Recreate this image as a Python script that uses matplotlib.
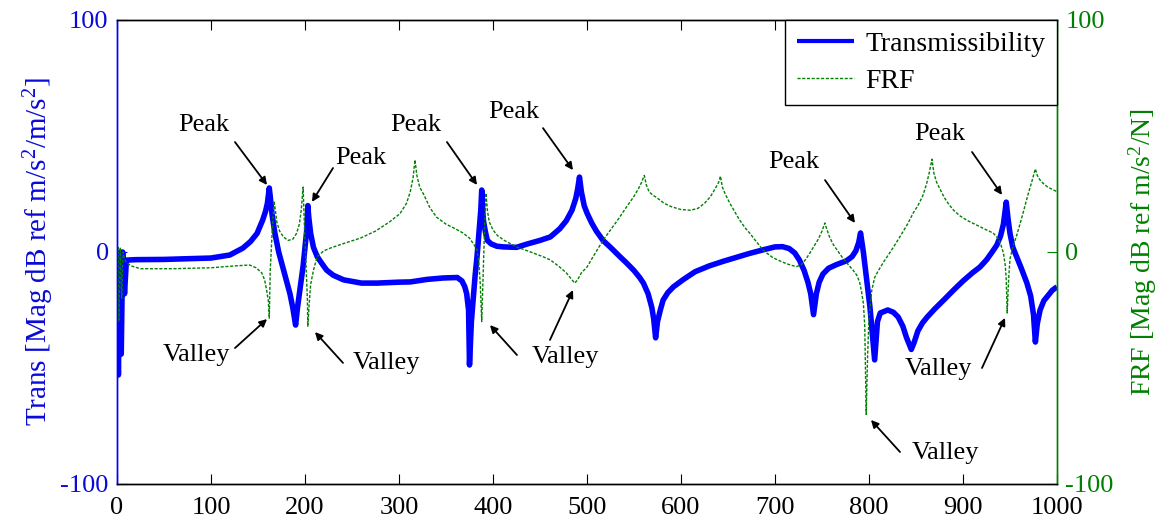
import matplotlib
matplotlib.use("Agg")
import matplotlib.pyplot as plt

plt.rcParams['font.family'] = ['Liberation Serif', 'DejaVu Serif']
plt.rcParams['mathtext.fontset'] = 'custom'
plt.rcParams['mathtext.rm'] = 'Liberation Serif'
plt.rcParams['mathtext.it'] = 'Liberation Serif:italic'
plt.rcParams['axes.unicode_minus'] = False

# ---------------- data ----------------
trans_freq = [0, 1.5, 3, 4.5, 6, 8, 10, 20, 50, 100, 120, 134, 142, 149, 155, 158, 160, 162,
              163, 165, 168, 172, 176, 180, 184, 187, 190, 192, 195, 198, 200, 202, 203,
              204, 206, 209, 213, 218, 223, 230, 241, 260, 277, 300, 312, 330, 347, 362,
              367, 370, 372, 374, 375, 377, 379, 381, 383, 385, 387, 388, 389, 390, 392,
              394, 398, 404, 411, 425, 436, 450, 461, 471, 478, 484, 488, 490, 492,
              494, 497, 500, 505, 510, 517, 525, 535, 542, 550, 556, 560, 565, 569, 571,
              573, 575, 578, 581, 586, 592, 602, 615, 630, 645, 660, 673, 688, 700, 708,
              715, 721, 726, 731, 735, 738, 741, 744, 747, 751, 757, 765, 776, 782, 786,
              789, 791, 794, 797, 801, 806, 809, 812, 820, 826, 831, 836, 840, 845, 848,
              852, 857, 862, 870, 880, 890, 900, 910, 918, 925, 931, 936, 940, 943, 946,
              948, 950, 953, 957, 962, 968, 972, 975, 977, 979, 982, 986, 990, 995, 1000]
trans_db = [-20, -53, 0, -44, 0, -18, -3.5, -3.3, -3.2, -2.6, -1.3, 1.7, 4.5, 8, 13.8, 17.5, 21, 27.6,
            24, 16, 8, 0, -6, -12, -18, -24, -31.5, -24, -15, -6, 2, 10, 20,
            15, 8, 2, -2, -5, -7.8, -10, -12, -13.4, -13.4, -13, -12.9, -11.8, -11.2, -11,
            -12.5, -15, -18, -25, -48.7, -30, -20, -10, -2, 8, 18, 26.7, 18, 13, 8.5,
            5, 3.5, 2.5, 2.2, 2, 3.4, 5, 6.5, 10, 13.5, 18, 23, 27, 32.3,
            26, 20, 16.8, 12.5, 9, 5, 2, -2, -4.7, -8, -11, -13.4, -18, -24, -29,
            -37, -30, -25, -20.7, -17.5, -15, -12, -8.5, -6, -4, -2.2, -0.6, 1, 2.2, 2.3,
            1.5, -0.4, -3.5, -8, -13, -18, -27, -18, -13, -9.5, -7, -5.5, -3.8, -2, 0.5,
            4, 8.2, 0, -10, -23.7, -46.5, -30, -26.3, -25, -26, -28, -32, -37, -42, -39,
            -34, -30.5, -28, -24.5, -20.5, -16.4, -12.5, -9, -6.5, -3.4, 0, 3, 7, 12, 21.5,
            14, 8, 2, -2, -7, -13.4, -19, -27, -38.8, -31, -25, -21, -19, -16.5, -15]

frf_freq = [0, 1, 2, 3.5, 5, 6.5, 8, 10, 15, 25, 60, 100, 125, 141, 148, 154, 157, 159, 161, 162,
            163, 165, 167, 168.5, 170, 173, 177, 182, 187, 191, 194, 196, 198, 199.5, 201,
            202.5, 203, 204.5, 206, 209, 213, 220, 227, 240, 259, 275, 290, 301, 308, 312,
            315, 317, 319, 322, 326, 333, 340, 350, 360, 368, 375, 380, 383, 385, 386.5,
            388, 389.5, 391, 392.5, 394, 396, 400, 405, 412, 425, 440, 453, 461, 471, 478,
            483, 487, 490, 494, 500, 508, 517, 525, 533, 542, 550, 555, 558, 561, 563, 566,
            570, 574, 582, 590, 600, 610, 618, 625, 631, 636, 640, 642, 644, 647, 652, 657,
            662, 668, 673, 680, 686, 691, 698, 705, 712, 718, 723, 728, 733, 737, 741, 746,
            750, 753, 755, 758, 762, 766, 771, 777, 783, 787, 790, 792, 794, 795.5, 797,
            798.5, 800, 803, 806, 810, 816, 822, 829, 835, 841, 847, 852, 857, 861, 864,
            867, 869, 872, 876, 880, 885, 890, 897, 905, 915, 925, 932, 937, 940, 943, 945,
            946, 947, 948.5, 950, 953, 957, 962, 966, 970, 973, 975, 977, 979, 982, 985,
            990, 995, 1000]
frf_db = [-25, 2, -30, 2, -20, 0, -3, -4.5, -6, -7.2, -7.2, -6.8, -6, -5.6, -6.8, -9, -12, -16, -21, -28.5,
          -8, 8, 22, 18, 13, 9, 6.5, 5, 5.5, 8, 12, 18, 28, 10, -5,
          -20, -32, -22, -14, -7.8, -2, 0.5, 1.7, 3.5, 6, 9, 13, 16.5, 21, 26,
          32, 39.7, 33, 28, 25, 19, 15, 12, 10, 8.2, 6, 3, 0.9, -5, -14,
          -30, -10, 10, 25.4, 18, 13, 9.5, 7, 5, 2.2, 0, -2, -3.4, -6.5, -9,
          -11.5, -13.4, -12, -9, -6.5, -1, 5, 9.5, 14, 19.4, 24, 27.5, 30, 33, 29, 26,
          24.5, 23.5, 21, 19.5, 18.3, 18, 18.8, 21, 23.7, 27, 30, 32.7, 28, 25, 21, 17.5,
          14, 10.5, 8.2, 4.5, 1.5, -0.4, -2.5, -3.8, -5, -5.8, -6.3, -5.5, -3, -0.5, 2.2, 5.5,
          9, 12.5, 10, 6.5, 3.2, 0.9, -2, -5, -7.8, -10, -13, -17, -22, -32, -70,
          -45, -28, -16.4, -11, -8, -4, -0.4, 4, 8, 12, 16.8, 20, 24, 29, 34,
          40, 34, 30, 26.7, 23.5, 20.5, 18, 15.5, 13.5, 11.5, 9.5, 8.2, 6, 3.5, -0.4, -6,
          -12, -26.3, -12, -3, 2.2, 7, 14, 20, 26, 30, 33, 35.8, 33, 31, 29.7,
          28, 27, 26]

x_ticks = [0, 100, 200, 300, 400, 500, 600, 700, 800, 900, 1000]
y_ticks = [-100, 0, 100]

# ---------------- figure ----------------
BLUE = '#0000ff'
TBLUE = '#0a0ad8'
GREEN = '#008000'

fig = plt.figure(figsize=(11.68, 5.25), dpi=100)
ax = fig.add_axes([117/1168, 1 - 484/525, (1057-117)/1168, (484-20)/525])
ax2 = ax.twinx()

l1, = ax.plot(trans_freq, trans_db, color=BLUE, lw=4.0, solid_joinstyle='round',
              solid_capstyle='butt')
l2, = ax2.plot(frf_freq, frf_db, color=GREEN, lw=1.0, linestyle=(0, (2.2, 1.2)))

ax.set_xlim(0, 1000)
ax.set_ylim(-100, 100)
ax2.set_ylim(-100, 100)
ax.set_xticks(x_ticks)
ax.set_yticks(y_ticks)
ax2.set_yticks(y_ticks)

FS = 19
ax.tick_params(axis='x', direction='in', length=7, top=True, labelsize=FS, colors='black', pad=9)
ax.tick_params(axis='y', direction='in', length=7, labelsize=FS, colors=TBLUE, pad=6)
ax2.tick_params(axis='y', direction='in', length=7, labelsize=FS, colors=GREEN, pad=6)

for a in (ax, ax2):
    a.spines['left'].set_color(BLUE)
    a.spines['right'].set_color(GREEN)
    a.spines['top'].set_color('black')
    a.spines['bottom'].set_color('black')
    for s in a.spines.values():
        s.set_linewidth(1.0)

ax.set_ylabel(r'Trans [Mag dB ref m/s$^2$/m/s$^2$]', fontsize=21, color=TBLUE, labelpad=3)
ax2.set_ylabel(r'FRF [Mag dB ref m/s$^2$/N]', fontsize=20, color=GREEN, labelpad=9)

# ---------------- annotations ----------------
labels = [
    ('Peak', (92.6, 54.7)), ('Peak', (259.6, 40.5)), ('Peak', (318, 54.7)),
    ('Peak', (422.3, 60.3)), ('Peak', (720.2, 38.8)), ('Peak', (875.5, 50.9)),
    ('Valley', (84, -44.4)), ('Valley', (286.2, -47.8)), ('Valley', (476.6, -45.3)),
    ('Valley', (873.4, -50.4)), ('Valley', (880.9, -86.6)),
]
arrows = [
    ((125.5, 47.4), (159.6, 28.9)), ((229.8, 36.2), (207.4, 21.6)),
    ((351, 47.4), (383, 28.9)), ((453.2, 53.4), (485.1, 35.3)),
    ((753.2, 31), (785.1, 12.5)), ((909.6, 43.1), (941.5, 24.6)),
    ((125.5, -41.4), (159.6, -28.9)), ((240.4, -47.8), (210.6, -34.5)),
    ((425.5, -44.4), (396.8, -31.5)), ((460.6, -37.9), (485.1, -16.4)),
    ((920.2, -50), (944.7, -28.4)), ((833, -86.2), (802.1, -72.4)),
]
for txt, (tx, ty) in labels:
    ax2.text(tx, ty, txt, fontsize=FS, ha='center', va='center', color='black', zorder=5)
for tail, tip in arrows:
    ax2.annotate('', xy=tip, xytext=tail,
                 arrowprops=dict(arrowstyle='-|>', color='black', lw=1.3,
                                 mutation_scale=11, shrinkA=0, shrinkB=0), zorder=5)

leg = ax2.legend([l1, l2], ['Transmissibility', 'FRF'], loc='upper right',
                 borderaxespad=0, fontsize=20, fancybox=False, framealpha=1,
                 edgecolor='black', handlelength=2.05, borderpad=0.42,
                 labelspacing=0.4, handletextpad=0.42)
leg.get_frame().set_linewidth(1.0)
leg.get_lines()[0].set_linewidth(3.0)
leg.set_zorder(10)

fig.savefig('out.png', dpi=100)
